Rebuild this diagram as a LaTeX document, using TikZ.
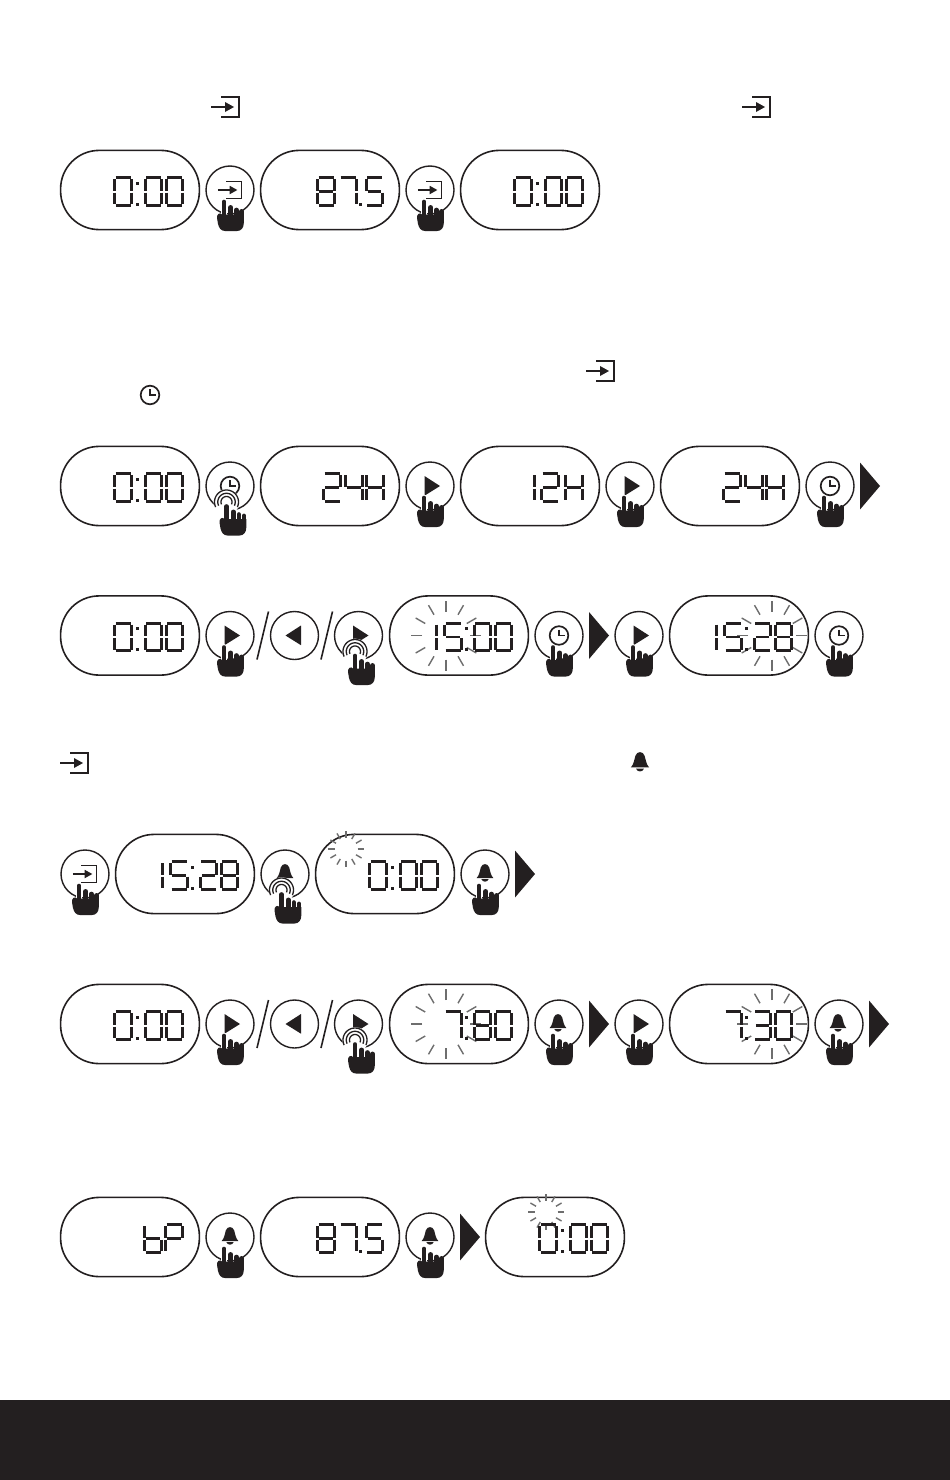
\documentclass[tikz,border=0pt]{standalone}
\definecolor{ink}{HTML}{231F20}
\definecolor{raygray}{HTML}{6E6E6E}
\tikzset{
  x=1pt,y=-1pt,
  pillbox/.style={draw=ink,line width=1.6pt,rectangle,rounded corners=38.5pt,minimum width=138.8pt,minimum height=79.2pt,inner sep=0pt,outer sep=0pt},
  btnbox/.style={draw=ink,line width=1.4pt,circle,minimum size=48pt,inner sep=0pt,outer sep=0pt},
  segline/.style={draw=ink,line width=2.7pt,line cap=butt},
  rayline/.style={draw=raygray,line width=1.4pt},
  sepmark/.style={fill=ink,draw=none},
}
% seven segment pieces, digit box 19 x 30
\def\segA{\draw[segline] (2,1.3)--(17,1.3);}
\def\segB{\draw[segline] (17.7,2.5)--(17.7,14);}
\def\segC{\draw[segline] (17.7,16)--(17.7,27.5);}
\def\segD{\draw[segline] (2,28.7)--(17,28.7);}
\def\segE{\draw[segline] (1.3,16)--(1.3,27.5);}
\def\segF{\draw[segline] (1.3,2.5)--(1.3,14);}
\def\segG{\draw[segline] (2.8,15)--(16.2,15);}
\def\gz{A,B,C,D,E,F}\def\ga{B,C}\def\gb{A,B,G,E,D}\def\gc{A,B,G,C,D}
\def\gd{F,G,B,C}\def\ge{A,F,G,C,D}\def\gg{A,B,C}\def\gh{A,B,C,D,E,F,G}
\def\gH{F,E,G,B,C}\def\gl{F,E,G,C,D}\def\gP{A,B,F,G,E}
\newcommand\DD[3]{\begin{scope}[shift={(#1,#2)}]\expandafter\let\expandafter\glist\csname g#3\endcsname
  \foreach \s in \glist {\csname seg\s\endcsname}\end{scope}}
% display text: L, y, list of offset/glyph
\newcommand\disp[3]{\foreach \xo/\gn in {#3}{\DD{#1+\xo+0.5}{#2-13.5}{\gn}}}
\newcommand\colonat[2]{\fill[ink] (#1+75.7,#2-8.5) rectangle ++(3,3); \fill[ink] (#1+75.7,#2+12.5) rectangle ++(3,3);}
\newcommand\pill[3]{\node[pillbox] (#1) at (#2+70,#3) {};}
\newcommand\btn[3]{\node[btnbox] (#1) at (#2,#3) {};}
\newcommand\timeOO[2]{\disp{#1}{#2}{53/z,83.5/z,104.5/z}\colonat{#1}{#2}}
\newcommand\fiveseven[2]{\disp{#1}{#2}{56/h,78/g,104.5/e}\fill[ink] (#1+98.5,#2+12.5) rectangle ++(3,3);}
% icons
\newcommand\enter[3]{\begin{scope}[shift={(#1,#2)},scale=#3]
  \draw[ink,line width=1.7pt,line join=miter] (-5,-10)--(13,-10)--(13,10)--(-5,10);
  \draw[ink,line width=2.6pt] (-15,0)--(3,0);
  \fill[ink] (8,0)--(-1,-5)--(-1,5)--cycle;
  \end{scope}}
\newcommand\clockicon[3]{\begin{scope}[shift={(#1,#2)},scale=#3]
  \draw[ink,line width=1.7pt] (0,0) circle[radius=9.3];
  \draw[ink,line width=1.5pt] (0,-6)--(0,0)--(6,0);
  \end{scope}}
\newcommand\bell[3]{\begin{scope}[shift={(#1,#2)},scale=#3]
  \fill[ink] (-8.3,4) .. controls (-5.8,1.5) and (-5.2,-3) .. (-4.2,-6.5) .. controls (-3,-11) and (3,-11) .. (4.2,-6.5) .. controls (5.2,-3) and (5.8,1.5) .. (8.3,4) -- cycle;
  \fill[ink] (-3.6,5.2) .. controls (-2.2,8.5) and (2.2,8.5) .. (3.6,5.2) -- cycle;
  \end{scope}}
\newcommand\playR[2]{\fill[ink] (#1-5.5,#2-10)--(#1+10,#2)--(#1-5.5,#2+9.7)--cycle;}
\newcommand\playL[2]{\fill[ink] (#1+6.5,#2-10)--(#1-9,#2)--(#1+6.5,#2+9.7)--cycle;}
\newcommand\sep[2]{\fill[sepmark] (#1,#2-23.5)--(#1+20,#2)--(#1,#2+23.5)--cycle;}
\newcommand\hand[2]{\begin{scope}[shift={(#1,#2)}]
  \draw[white,line width=6.8pt,line cap=round] (-6,12)--(-6,24);
  \foreach \fx/\fy in {-6/12,0.8/17.4,6.4/20,11.5/21.4}{\draw[ink,line width=4.7pt,line cap=round] (\fx,\fy)--(\fx,30);}
  \fill[ink] (-8,24.5)--(13.8,24.5)--(13.8,33) .. controls (13.8,38) and (11,41) .. (7,41)--(-5,41) .. controls (-9,41) and (-11,38) .. (-12,34)--(-13,28) .. controls (-13.5,24) and (-10,22) .. (-8,24.5)--cycle;
  \end{scope}}
\newcommand\press[2]{\begin{scope}[shift={(#1,#2)}]
  \fill[white] (-3.5,16) circle[radius=13];
  \foreach \rr in {5.5,8.7,12}{\draw[ink,line width=1.3pt] plot[domain=-25:205,samples=30] ({-3.5+\rr*cos(\x)},{16-\rr*sin(\x)});}
  \end{scope}\hand{#1+2.5}{#2+8.5}}
\newcommand\rays[4]{\foreach \a in {0,30,...,330}{\draw[rayline] ({#1+#3*cos(\a)},{#2+#3*sin(\a)})--({#1+#4*cos(\a)},{#2+#4*sin(\a)});}}
\begin{document}
\begin{tikzpicture}
\useasboundingbox (0,0) rectangle (950,1480);
\fill[white] (0,0) rectangle (950,1480);
\fill[ink] (0,1400) rectangle (950,1480);
\enter{226}{107}{1}
\enter{757}{107}{1}
\enter{601}{371}{1}
\clockicon{150}{395}{1}
\enter{75}{763}{1}
\bell{640}{763}{1.1}
% row 1
\def\yy{190}
\pill{p1a}{60}{\yy}\timeOO{60}{\yy}
\btn{b1a}{230}{\yy}\enter{230.5}{\yy}{0.85}\hand{230}{\yy}
\pill{p1b}{260}{\yy}\fiveseven{260}{\yy}
\btn{b1b}{430}{\yy}\enter{430.5}{\yy}{0.85}\hand{430}{\yy}
\pill{p1c}{460}{\yy}\timeOO{460}{\yy}
% row 2
\def\yy{486}
\pill{p2a}{60}{\yy}\timeOO{60}{\yy}
\btn{b2a}{230}{\yy}\clockicon{230}{\yy}{1}\press{230}{\yy}
\pill{p2b}{260}{\yy}\disp{260}{\yy}{62/b,84/d,105/H}
\btn{b2b}{430}{\yy}\playR{430}{\yy}\hand{430}{\yy}
\pill{p2c}{460}{\yy}\disp{460}{\yy}{56.5/a,80/b,104/H}
\btn{b2c}{630}{\yy}\playR{630}{\yy}\hand{630}{\yy}
\pill{p2d}{660}{\yy}\disp{660}{\yy}{62/b,84/d,105/H}
\btn{b2d}{830}{\yy}\clockicon{830}{\yy}{1}\hand{830}{\yy}
\sep{860}{\yy}
% row 3
\def\yy{635.5}
\pill{p3a}{60}{\yy}\timeOO{60}{\yy}
\btn{b3a}{230}{\yy}\playR{230}{\yy}\hand{230}{\yy}
\coordinate (s1a) at (257,659.5);\coordinate (s1b) at (268.5,611.5);\draw[ink,line width=1.6pt] (s1a)--(s1b);
\btn{b3b}{294.5}{\yy}\playL{294.5}{\yy}
\coordinate (s2a) at (321,659.5);\coordinate (s2b) at (332.5,611.5);\draw[ink,line width=1.6pt] (s2a)--(s2b);
\btn{b3c}{358.5}{\yy}\playR{358.5}{\yy}\press{358.5}{\yy}
\pill{p3b}{389}{\yy}\rays{446}{\yy}{24}{35}\disp{389}{\yy}{29/a,54/e,83.5/z,104.5/z}\colonat{389}{\yy}
\btn{b3d}{559}{\yy}\clockicon{559}{\yy}{1}\hand{559}{\yy}
\sep{589}{\yy}
\btn{b3e}{639}{\yy}\playR{639}{\yy}\hand{639}{\yy}
\pill{p3c}{669}{\yy}\rays{772}{\yy}{24}{35}\disp{669}{\yy}{29/a,54/e,83.5/b,104.5/h}\colonat{669}{\yy}
\btn{b3f}{839}{\yy}\clockicon{839}{\yy}{1}\hand{839}{\yy}
% row 4
\def\yy{874}
\btn{b4a}{85}{\yy}\enter{85.5}{\yy}{0.85}\hand{85}{\yy}
\pill{p4a}{115}{\yy}\disp{115}{\yy}{29/a,54/e,83.5/b,104.5/h}\colonat{115}{\yy}
\btn{b4b}{285}{\yy}\bell{285}{\yy}{1}\press{285}{\yy}
\pill{p4b}{315}{\yy}\rays{346}{849}{11.5}{18}\timeOO{315}{\yy}
\btn{b4c}{485}{\yy}\bell{485}{\yy}{1}\hand{485}{\yy}
\sep{515}{\yy}
% row 5
\def\yy{1024}
\pill{p5a}{60}{\yy}\timeOO{60}{\yy}
\btn{b5a}{230}{\yy}\playR{230}{\yy}\hand{230}{\yy}
\coordinate (s3a) at (257,1048);\coordinate (s3b) at (268.5,1000);\draw[ink,line width=1.6pt] (s3a)--(s3b);
\btn{b5b}{294.5}{\yy}\playL{294.5}{\yy}
\coordinate (s4a) at (321,1048);\coordinate (s4b) at (332.5,1000);\draw[ink,line width=1.6pt] (s4a)--(s4b);
\btn{b5c}{358.5}{\yy}\playR{358.5}{\yy}\press{358.5}{\yy}
\pill{p5b}{389}{\yy}\rays{446}{\yy}{24}{35}\disp{389}{\yy}{54/g,83.5/h,104.5/z}\colonat{389}{\yy}
\btn{b5d}{559}{\yy}\bell{558}{\yy}{1}\hand{559}{\yy}
\sep{589}{\yy}
\btn{b5e}{639}{\yy}\playR{639}{\yy}\hand{639}{\yy}
\pill{p5c}{669}{\yy}\rays{772}{\yy}{24}{35}\disp{669}{\yy}{54/g,83.5/c,104.5/z}\colonat{669}{\yy}
\btn{b5f}{839}{\yy}\bell{838}{\yy}{1}\hand{839}{\yy}
\sep{869}{\yy}
% row 6
\def\yy{1237}
\pill{p6a}{60}{\yy}\disp{60}{\yy}{83/l,104/P}
\btn{b6a}{230}{\yy}\bell{230}{\yy}{1}\hand{230}{\yy}
\pill{p6b}{260}{\yy}\fiveseven{260}{\yy}
\btn{b6b}{430}{\yy}\bell{430}{\yy}{1}\hand{430}{\yy}
\sep{460}{\yy}
\pill{p6c}{485}{\yy}\rays{546}{1212}{11.5}{18}\timeOO{485}{\yy}
\end{tikzpicture}
\end{document}
